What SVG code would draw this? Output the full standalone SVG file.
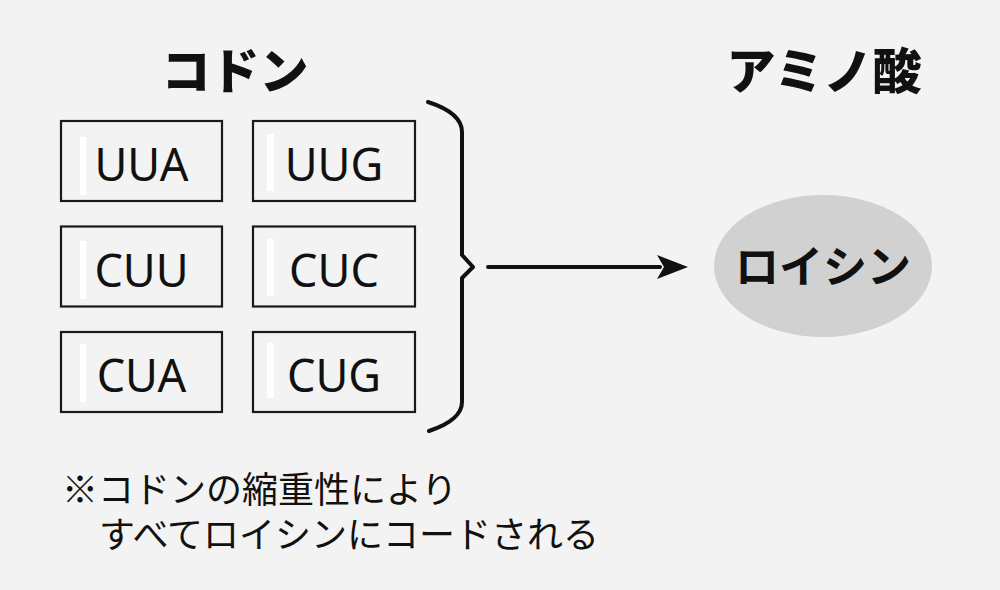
<svg xmlns="http://www.w3.org/2000/svg" width="1000" height="590" viewBox="0 0 1000 590">
<defs>
<style>
.bg{fill:#f3f3f3}
.box{fill:#f3f3f3;stroke:#1a1a1a;stroke-width:2.2}
.bar{fill:#ffffff}
.code{font-family:"Noto Sans","Liberation Sans",sans-serif;font-size:45px;fill:#111;text-anchor:middle}
.title{font-family:"Noto Sans CJK JP",sans-serif;font-weight:900;font-size:49px;fill:#111;text-anchor:middle}
.note{font-family:"Noto Sans CJK JP",sans-serif;font-size:36px;fill:#111}
.line{fill:none;stroke:#111;stroke-width:4;stroke-linecap:round;stroke-linejoin:round}
</style>
<marker id="ah" markerWidth="32" markerHeight="26" refX="30" refY="13" orient="auto" markerUnits="userSpaceOnUse" viewBox="0 0 32 26">
<path d="M0,1 L31,13 L0,25 L7,13 Z" fill="#111"/>
</marker>
</defs>
<rect class="bg" x="0" y="0" width="1000" height="590"/>
<text class="title" x="235" y="89">コドン</text>
<text class="title" x="824" y="89">アミノ酸</text>
<g id="node-UUA"><rect class="box" x="61" y="121" width="161" height="80"/><rect class="bar" x="80" y="137" width="6" height="58"/><text class="code" x="141.5" y="181">UUA</text></g>
<g id="node-UUG"><rect class="box" x="253" y="121" width="162" height="80"/><rect class="bar" x="267" y="134" width="7" height="57"/><text class="code" x="334" y="181">UUG</text></g>
<g id="node-CUU"><rect class="box" x="61" y="226.5" width="161" height="80"/><rect class="bar" x="80" y="241" width="6" height="58"/><text class="code" x="141.5" y="286.5">CUU</text></g>
<g id="node-CUC"><rect class="box" x="253" y="226.5" width="162" height="80"/><rect class="bar" x="267" y="239" width="7" height="57"/><text class="code" x="334" y="286.5">CUC</text></g>
<g id="node-CUA"><rect class="box" x="61" y="332" width="161" height="80"/><rect class="bar" x="80" y="344" width="6" height="58"/><text class="code" x="141.5" y="392">CUA</text></g>
<g id="node-CUG"><rect class="box" x="253" y="332" width="162" height="80"/><rect class="bar" x="267" y="343" width="7" height="55"/><text class="code" x="334" y="392">CUG</text></g>
<g id="node-leucine"><ellipse cx="823" cy="266" rx="109" ry="71" fill="#d1d1d1"/><text class="title" x="823" y="283" style="font-size:44px;font-weight:bold">ロイシン</text></g>
<g id="connectors">
<path class="line" d="M428,102 Q462,113 462,132 L462,255 L473,267 L462,278 L462,402 Q462,420 429,431"/>
<line class="line" x1="488" y1="267" x2="660" y2="267" stroke-linecap="butt"/>
<path d="M657,255 L688,267 L657,279 L664,267 Z" fill="#111"/>
</g>
<text class="note"><tspan x="62" y="503">※コドンの縮重性により</tspan><tspan x="99" y="548">すべてロイシンにコードされる</tspan></text>
</svg>
